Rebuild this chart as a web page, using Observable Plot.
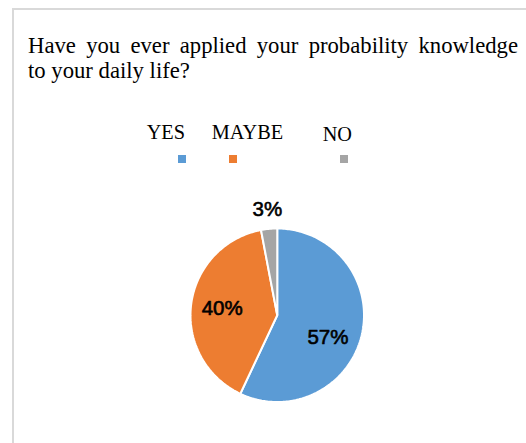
<!DOCTYPE html>
<html>
<head>
<meta charset="utf-8">
<script src="https://cdn.jsdelivr.net/npm/d3@7"></script>
<script src="https://cdn.jsdelivr.net/npm/@observablehq/plot@0.6"></script>
<style>
  html, body { margin: 0; padding: 0; background: #fff; }
  body { width: 526px; height: 443px; overflow: hidden; position: relative; }
  #frame { position: absolute; left: 12px; top: 8px; width: 620px; height: 520px;
           border-top: 2px solid #d9d9d9; border-left: 2px solid #d9d9d9; }
  #title { position: absolute; left: 28px; top: 32.5px; width: 490px;
           font-family: "Liberation Serif", "Times New Roman", serif; font-size: 22.7px;
           line-height: 25px; color: #000; }
  #title .l1 { text-align: justify; text-align-last: justify; }
  .lg { position: absolute; font-family: "Liberation Serif", "Times New Roman", serif;
        font-size: 20.3px; line-height: 20px; color: #000; white-space: nowrap; }
  .sw { position: absolute; width: 8px; height: 8px; }
  #chart { position: absolute; left: 0; top: 0; }
</style>
</head>
<body>
<div id="frame"></div>
<div id="chart"></div>
<div id="title"><div class="l1">Have you ever applied your probability knowledge</div><div class="l2">to your daily life?</div></div>
<div id="legend"></div>
<script>
// ---- data ----
const categories = ["YES", "MAYBE", "NO"];
const percents = [57, 40, 3];
const colors = ["#5B9BD5", "#ED7D31", "#A5A5A5"];

// ---- legend (HTML, Excel-like layout: labels above, swatches below) ----
const legendLabelLeft = [146.7, 211.7, 322.7];
const legendLabelTop = [121.5, 121.5, 124.2];
const legendSwatchLeft = [177.5, 229, 339.5];
const legend = document.getElementById("legend");
categories.forEach((c, i) => {
  const t = document.createElement("div");
  t.className = "lg";
  t.textContent = c;
  t.style.left = legendLabelLeft[i] + "px";
  t.style.top = legendLabelTop[i] + "px";
  legend.appendChild(t);
  const s = document.createElement("div");
  s.className = "sw";
  s.style.left = legendSwatchLeft[i] + "px";
  s.style.top = "155px";
  s.style.background = colors[i];
  legend.appendChild(s);
});

// ---- pie geometry derived from data ----
const total = d3.sum(percents);
let acc = 0;
const slices = categories.map((c, i) => {
  const a0 = acc / total * 2 * Math.PI;
  acc += percents[i];
  const a1 = acc / total * 2 * Math.PI;
  return {c, v: percents[i], a0, a1};
});
const pts = [];
for (const s of slices) {
  pts.push({c: s.c, x: 0, y: 0});
  const n = Math.max(2, Math.ceil((s.a1 - s.a0) / (Math.PI / 180)));
  for (let k = 0; k <= n; k++) {
    const a = s.a0 + (s.a1 - s.a0) * k / n;
    pts.push({c: s.c, x: Math.sin(a), y: Math.cos(a)});
  }
}
// label placement: small slices outside, large slices inside (best-fit style)
const labels = slices.map(s => {
  const m = (s.a0 + s.a1) / 2;
  const big = s.v > 50;
  const r = s.v < 5 ? 1.22 : 0.64;
  const a = big ? m + 0.2 : m;
  return {c: s.c, text: s.v + "%", x: r * Math.sin(a), y: r * Math.cos(a)};
});

const plot = Plot.plot({
  width: 526,
  height: 443,
  margin: 0,
  x: {domain: [-1, 1], range: [190, 363.5], axis: null},
  y: {domain: [-1, 1], range: [401.5, 228], axis: null},
  color: {domain: categories, range: colors},
  marks: [
    Plot.line(pts, {x: "x", y: "y", z: "c", fill: "c", stroke: "white", strokeWidth: 2,
                    curve: "linear-closed", strokeLinejoin: "miter"}),
    Plot.text(labels, {x: "x", y: "y", text: "text", fontSize: 20.5, fill: "#000",
                       stroke: "#000", strokeWidth: 0.6,
                       fontFamily: "'Liberation Sans', Arial, sans-serif"})
  ]
});
plot.style.background = "transparent";
plot.style.overflow = "visible";
document.getElementById("chart").appendChild(plot);
</script>
</body>
</html>
